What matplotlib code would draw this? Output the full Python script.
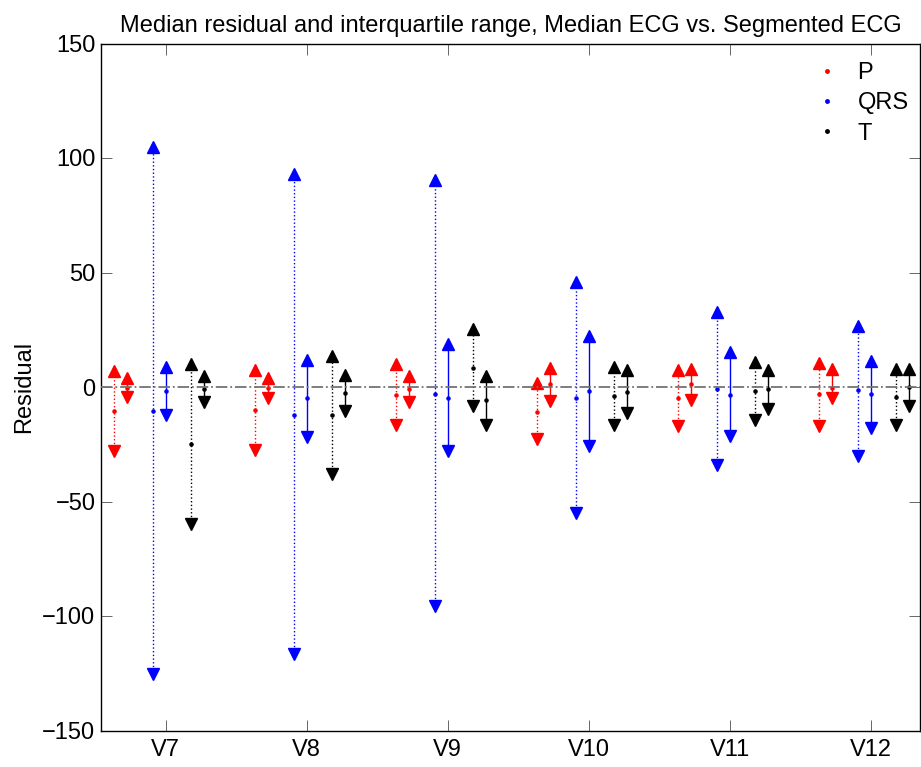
import matplotlib
matplotlib.use("Agg")
import matplotlib.pyplot as plt
from matplotlib.lines import Line2D
import numpy as np

plt.rcParams['font.family'] = ['Liberation Sans', 'DejaVu Sans']

leads = ['V7', 'V8', 'V9', 'V10', 'V11', 'V12']
waves = ['P', 'QRS', 'T']
colors = {'P': 'red', 'QRS': 'blue', 'T': 'black'}

# dotted series: upper quartile, median, lower quartile
p_dot_hi = [6.8, 7.6, 10.0, 1.6, 7.6, 10.4]
p_dot_med = [-10.4, -9.9, -3.5, -10.7, -4.7, -3.2]
p_dot_lo = [-27.8, -27.3, -16.7, -22.9, -17.1, -17.1]
qrs_dot_hi = [104.7, 93.0, 90.4, 45.7, 32.6, 26.8]
qrs_dot_med = [-10.4, -12.2, -3.1, -4.7, -0.7, -1.5]
qrs_dot_lo = [-125.5, -116.5, -95.5, -55.1, -34.2, -30.0]
t_dot_hi = [10.0, 13.4, 25.4, 8.8, 10.7, 8.0]
t_dot_med = [-25.0, -12.2, 8.2, -4.1, -1.8, -4.4]
t_dot_lo = [-60.0, -37.8, -8.5, -16.7, -14.2, -16.7]

# solid series
p_sol_hi = [3.9, 4.1, 5.0, 8.5, 7.7, 7.7]
p_sol_med = [-0.4, -0.4, -0.8, 1.2, 1.2, -0.5]
p_sol_lo = [-4.2, -4.7, -6.5, -6.3, -5.7, -5.0]
qrs_sol_hi = [8.9, 11.8, 18.6, 22.4, 15.1, 11.4]
qrs_sol_med = [-1.8, -4.9, -4.7, -1.8, -3.4, -3.2]
qrs_sol_lo = [-12.4, -21.7, -27.8, -25.6, -21.6, -17.8]
t_sol_hi = [5.0, 5.1, 5.0, 7.5, 7.6, 7.7]
t_sol_med = [-1.0, -2.5, -5.8, -2.2, -0.7, -0.1]
t_sol_lo = [-6.7, -10.3, -16.5, -11.5, -9.4, -8.3]

dotted = {'P': (p_dot_lo, p_dot_med, p_dot_hi),
          'QRS': (qrs_dot_lo, qrs_dot_med, qrs_dot_hi),
          'T': (t_dot_lo, t_dot_med, t_dot_hi)}
solid = {'P': (p_sol_lo, p_sol_med, p_sol_hi),
         'QRS': (qrs_sol_lo, qrs_sol_med, qrs_sol_hi),
         'T': (t_sol_lo, t_sol_med, t_sol_hi)}

fig = plt.figure(figsize=(9.21, 7.67), dpi=100)
ax = fig.add_axes([101/921, 1-730.5/767, 819/921, 687/767])

x = np.arange(1, len(leads)+1)
shift = {'P': -0.275, 'QRS': 0.0, 'T': 0.272}

for w in waves:
    c = colors[w]
    for series, ls, dx in [(dotted, ':', -0.09), (solid, '-', 0.0)]:
        lo, med, hi = series[w]
        xs = x + shift[w] + dx
        for i in range(len(leads)):
            ax.plot([xs[i], xs[i]], [lo[i], hi[i]], ls=ls, color=c, lw=1)
        ax.plot(xs, hi, '^', color=c, ms=8.5, mec=c, ls='none')
        ax.plot(xs, lo, 'v', color=c, ms=8.5, mec=c, ls='none')
        ax.plot(xs, med, '.', color=c, ms=4.5, ls='none')

ax.axhline(0, color='0.45', ls='-.', lw=1.3, zorder=5)

ax.set_xlim(0.541, 6.35)
ax.set_ylim(-150, 150)
ax.set_xticks(x)
ax.set_xticklabels(leads)
ax.set_yticks([-150, -100, -50, 0, 50, 100, 150])
ax.set_yticklabels(['\u2212150', '\u2212100', '\u221250', '0', '50', '100', '150'])
ax.tick_params(direction='in', length=8, width=0.6, labelsize=17,
               top=True, right=True, color='0.3')
ax.tick_params(axis='x', pad=6)
ax.tick_params(axis='y', pad=4)
for s in ax.spines.values():
    s.set_linewidth(1)

ax.set_ylabel('Residual', fontsize=17, labelpad=5)
ax.set_title('Median residual and interquartile range, Median ECG vs. Segmented ECG',
             fontsize=17, pad=8)

handles = [Line2D([], [], marker='.', color=colors[w], ls='none', ms=5) for w in waves]
ax.legend(handles, waves, loc='upper right', frameon=False, fontsize=17,
          labelspacing=0.35, handletextpad=0.3, bbox_to_anchor=(1.012, 1.004))

fig.savefig('out.png', dpi=100)
